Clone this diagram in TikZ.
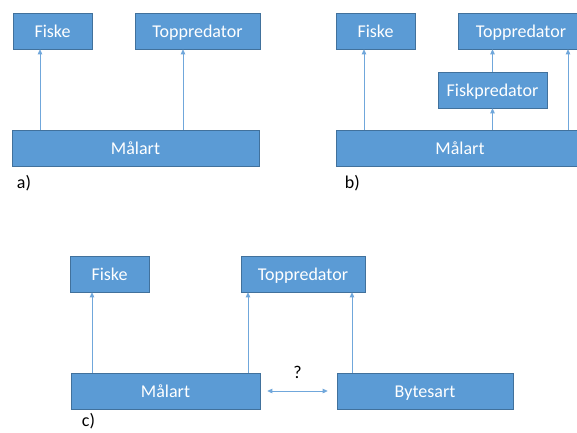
\documentclass[tikz,border=0pt]{standalone}
\usepackage{fontspec}
\setmainfont{Carlito}
\usetikzlibrary{arrows.meta}
\definecolor{boxblue}{HTML}{5B9BD5}
\definecolor{boxedge}{HTML}{41719C}
\definecolor{linkblue}{HTML}{70A7DB}
\begin{document}
\begin{tikzpicture}
[x=1pt, y=-1pt,
link/.style={draw=linkblue, line width=0.8pt, -{Triangle[length=5pt,width=4.5pt]}},
tag/.style={font=\fontsize{18}{20}\selectfont, anchor=west, inner sep=0pt}
]
\tikzset{box/.style={draw=boxedge, fill=boxblue, text=white, line width=0.6pt,
                     font=\fontsize{18}{20}\selectfont, inner sep=0pt,
                     text height=12pt, text depth=0pt, minimum height=36pt}}
\useasboundingbox (0,0) rectangle (577,432);
% a)
\node[box, minimum width=79pt] (fa) at (52.5,31) {Fiske};
\node[box, minimum width=125pt] (ta) at (197.5,31) {Toppredator};
\node[box, minimum width=247pt] (ma) at (135.5,148) {Målart};
\node[tag] (la) at ([xshift=5pt,yshift=-17pt]ma.south west) {a)};
\draw[link] ([xshift=-95.5pt]ma.north) -- ([xshift=-12.5pt]fa.south);
\draw[link] ([xshift=47.5pt]ma.north) -- ([xshift=-14.5pt]ta.south);
% b)
\node[box, minimum width=79pt] (fb) at (375.5,31) {Fiske};
\node[box, minimum width=125pt] (tb) at (521,31) {Toppredator};
\node[box, minimum width=109pt] (pb) at (492.5,90) {Fiskpredator};
\node[box, minimum width=248pt] (mb) at (460,148) {Målart};
\node[tag] (lb) at ([xshift=9pt,yshift=-17pt]mb.south west) {b)};
\draw[link] ([xshift=-96pt]mb.north) -- ([xshift=-11.5pt]fb.south);
\draw[link] ([xshift=32.5pt]mb.north) -- (pb.south);
\draw[link] (pb.north) -- ([xshift=-28.5pt]tb.south);
\draw[link] ([xshift=108pt]mb.north) -- ([xshift=47pt]tb.south);
% c)
\node[box, minimum width=79pt] (fc) at (109.5,274) {Fiske};
\node[box, minimum width=124pt] (tc) at (303,274) {Toppredator};
\node[box, minimum width=189pt] (mc) at (165.5,391) {Målart};
\node[box, minimum width=176pt] (bc) at (425,391) {Bytesart};
\node[tag] (lc) at ([xshift=11pt,yshift=-12pt]mc.south west) {c)};
\draw[link] ([xshift=-73.5pt]mc.north) -- ([xshift=-17.5pt]fc.south);
\draw[link] ([xshift=82.5pt]mc.north) -- ([xshift=-55pt]tc.south);
\draw[link] ([xshift=-73pt]bc.north) -- ([xshift=49pt]tc.south);
\draw[link, {Triangle[length=5pt,width=4.5pt]}-{Triangle[length=5pt,width=4.5pt]}]
    ([xshift=7pt]mc.east) -- ([xshift=-9pt]bc.west)
    node[midway, above=9pt, font=\fontsize{18}{20}\selectfont] (q) {?};
\end{tikzpicture}
\end{document}
